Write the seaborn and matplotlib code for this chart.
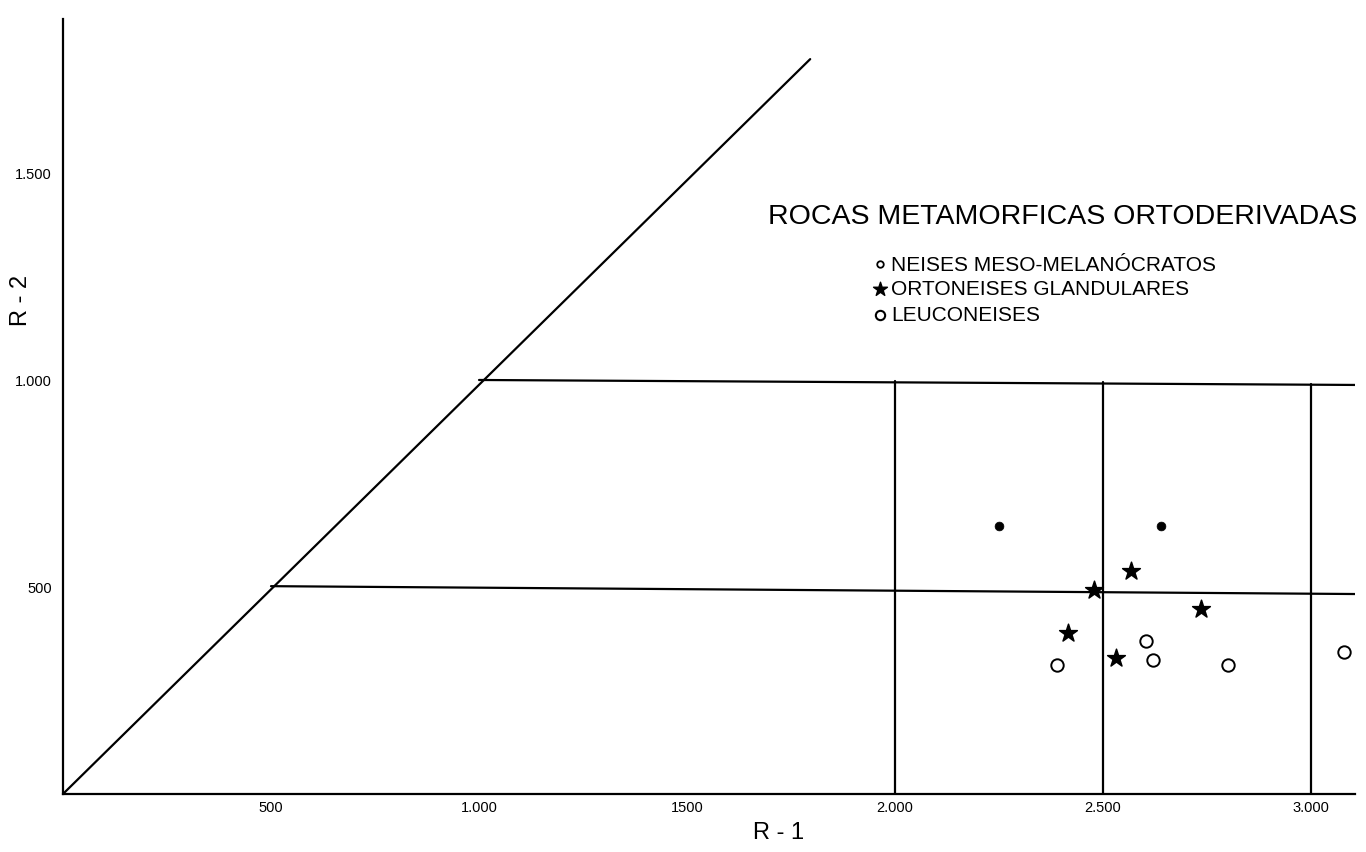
import matplotlib
matplotlib.use("Agg")
import matplotlib.pyplot as plt
import seaborn as sns
import pandas as pd

# puntos (R-1, R-2)
neises_x = [2250, 2639]
neises_y = [647, 647]
orto_x = [2567, 2478, 2736, 2416, 2532]
orto_y = [539, 493, 447, 389, 328]
leuco_x = [2603, 2620, 2389, 2800, 3079]
leuco_y = [370, 324, 312, 312, 343]

# lineas del diagrama
diag_x = [0, 1796]
diag_y = [0, 1775]
h1000_x = [1000, 3106]
h1000_y = [1000, 988]
h500_x = [500, 3106]
h500_y = [502, 483]
vert_x = [2000, 2500, 3000]
vert_top = [998, 996, 990]

xticks = [500, 1000, 1500, 2000, 2500, 3000]
xtick_labels = ["500", "1.000", "1500", "2.000", "2.500", "3.000"]
yticks = [500, 1000, 1500]
ytick_labels = ["500", "1.000", "1.500"]

sns.set_style("white")
plt.rcParams['font.family'] = ['Liberation Sans', 'DejaVu Sans']
plt.rcParams['text.color'] = 'black'
plt.rcParams['axes.labelcolor'] = 'black'

fig = plt.figure(figsize=(13.66, 8.53), dpi=100)
ax = fig.add_axes([0.0461, 0.068, 0.946, 0.9086])

df = pd.concat([
    pd.DataFrame({"x": neises_x, "y": neises_y, "g": "neises"}),
    pd.DataFrame({"x": orto_x, "y": orto_y, "g": "orto"}),
    pd.DataFrame({"x": leuco_x, "y": leuco_y, "g": "leuco"}),
])

sns.lineplot(x=diag_x, y=diag_y, color="black", lw=1.6, ax=ax)
sns.lineplot(x=h1000_x, y=h1000_y, color="black", lw=1.6, ax=ax)
sns.lineplot(x=h500_x, y=h500_y, color="black", lw=1.6, ax=ax)
for vx, vt in zip(vert_x, vert_top):
    ax.plot([vx, vx], [0, vt], color="black", lw=1.6)

sns.scatterplot(data=df[df.g == "neises"], x="x", y="y", marker="o", s=40,
                color="black", edgecolor="black", ax=ax, legend=False)
sns.scatterplot(data=df[df.g == "orto"], x="x", y="y", marker="*", s=180,
                color="black", edgecolor="black", ax=ax, legend=False)
sns.scatterplot(data=df[df.g == "leuco"], x="x", y="y", marker="o", s=80,
                facecolor="white", edgecolor="black", linewidth=1.4, ax=ax, legend=False)

ax.set_xlim(0, 3106)
ax.set_ylim(0, 1872)
ax.set_xticks(xticks)
ax.set_xticklabels(xtick_labels, fontsize=10.5)
ax.set_yticks(yticks)
ax.set_yticklabels(ytick_labels, fontsize=10.5)
ax.tick_params(direction="in", length=7, width=1.2, colors="black", pad=4)
ax.tick_params(axis="y", pad=8)
for s in ["top", "right"]:
    ax.spines[s].set_visible(False)
for s in ["left", "bottom"]:
    ax.spines[s].set_color("black")
    ax.spines[s].set_linewidth(1.6)

ax.set_xlabel("R - 1", fontsize=17)
ax.xaxis.set_label_coords((778 - 63) / 1292, -0.035)
ax.set_ylabel("R - 2", fontsize=17)
ax.yaxis.set_label_coords(-0.024, (795 - 300) / 775)

ax.text(1695, 1396, "ROCAS METAMORFICAS ORTODERIVADAS", fontsize=20.5,
        ha="left", va="center")

# leyenda
ley_y = [1280, 1220, 1157]
ley_txt = ["NEISES MESO-MELANÓCRATOS", "ORTONEISES GLANDULARES", "LEUCONEISES"]
ax.scatter([1964], [ley_y[0]], marker="o", s=22, facecolor="white", edgecolor="black", linewidth=1.3)
ax.scatter([1964], [ley_y[1]], marker="*", s=110, color="black")
ax.scatter([1964], [ley_y[2]], marker="o", s=45, facecolor="white", edgecolor="black", linewidth=1.5)
for yy, tt in zip(ley_y, ley_txt):
    ax.text(1990, yy, tt, fontsize=15, ha="left", va="center")

fig.savefig("out.png", dpi=100)
